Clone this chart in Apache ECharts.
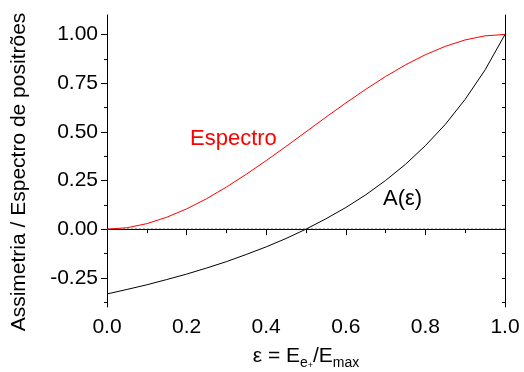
<!DOCTYPE html>
<html>
<head>
<meta charset="utf-8">
<script src="https://cdn.jsdelivr.net/npm/echarts@6/dist/echarts.min.js"></script>
<style>
  html, body { margin: 0; padding: 0; background: #fff; }
  #chart { width: 524px; height: 372px; }
</style>
</head>
<body>
<div id="chart"></div>
<script>
// Reduced positron energy ε = E / Emax
const epsilon = [0, 0.05, 0.1, 0.15, 0.2, 0.25, 0.3, 0.35, 0.4, 0.45, 0.5,
                 0.55, 0.6, 0.65, 0.7, 0.75, 0.8, 0.85, 0.9, 0.95, 1.0];
// Normalised positron spectrum
const espectro = [0, 0.007, 0.028, 0.061, 0.104, 0.156, 0.216, 0.282, 0.352, 0.425, 0.5,
                  0.575, 0.648, 0.718, 0.784, 0.844, 0.896, 0.939, 0.972, 0.993, 1.0];
// Asymmetry A(ε)
const assimetria = [-0.333, -0.310, -0.286, -0.259, -0.231, -0.2, -0.167, -0.130, -0.091, -0.048, 0,
                    0.053, 0.111, 0.176, 0.25, 0.333, 0.429, 0.538, 0.667, 0.818, 1.0];
// Tick values
const xTicks = [0, 0.2, 0.4, 0.6, 0.8, 1.0];
const yMajor = [-0.25, 0, 0.25, 0.5, 0.75, 1.0];
const yMinor = [-0.375, -0.125, 0.125, 0.375, 0.625, 0.875];
const yRange = [-0.4, 1.1];

const FONT = '"Liberation Sans", Arial, sans-serif';
const pair = (xs, ys) => xs.map((x, i) => [x, ys[i]]);

const chart = echarts.init(document.getElementById('chart'), null, { renderer: 'canvas' });

const axisLine = { show: true, lineStyle: { color: '#000', width: 1 } };

chart.setOption({
  animation: false,
  backgroundColor: '#fff',
  grid: { left: 107, right: 19, top: 15, bottom: 65 },
  xAxis: [
    {
      type: 'value', min: xTicks[0], max: xTicks[xTicks.length - 1], interval: 0.2,
      position: 'bottom',
      axisLine: axisLine,
      axisTick: { show: true, inside: false, length: 6, lineStyle: { color: '#000' } },
      minorTick: { show: true, splitNumber: 2, length: 4, lineStyle: { color: '#000' } },
      splitLine: { show: false },
      axisLabel: { fontFamily: FONT, fontSize: 21, color: '#000', margin: 10,
                   formatter: v => v.toFixed(1) }
    },
    {
      type: 'value', min: xTicks[0], max: xTicks[xTicks.length - 1], interval: 0.2,
      position: 'top',
      axisLine: axisLine,
      axisTick: { show: true, inside: true, length: 3, lineStyle: { color: '#000' } },
      minorTick: { show: true, splitNumber: 2, length: 3, lineStyle: { color: '#000' } },
      splitLine: { show: false },
      axisLabel: { show: false }
    }
  ],
  yAxis: [
    {
      type: 'value', min: yRange[0], max: yRange[1],
      position: 'left',
      axisLine: axisLine,
      axisTick: { show: true, inside: false, length: 6, customValues: yMajor, lineStyle: { color: '#000' } },
      splitLine: { show: false },
      axisLabel: { fontFamily: FONT, fontSize: 21, color: '#000', margin: 9,
                   customValues: yMajor, formatter: v => v.toFixed(2) }
    },
    {
      type: 'value', min: yRange[0], max: yRange[1],
      position: 'left',
      axisLine: { show: false },
      axisTick: { show: true, inside: false, length: 3, customValues: yMinor, lineStyle: { color: '#000' } },
      splitLine: { show: false },
      axisLabel: { show: false }
    },
    {
      type: 'value', min: yRange[0], max: yRange[1],
      position: 'right',
      axisLine: axisLine,
      axisTick: { show: true, inside: true, length: 3, customValues: yMajor.concat(yMinor), lineStyle: { color: '#000' } },
      splitLine: { show: false },
      axisLabel: { show: false }
    }
  ],
  series: [
    {
      name: 'zero', type: 'line', symbol: 'none', silent: true,
      data: [[0, 0], [1, 0]],
      lineStyle: { color: '#222', width: 1, type: [2, 2] }
    },
    {
      name: 'Espectro', type: 'line', symbol: 'none', silent: true,
      data: pair(epsilon, espectro),
      lineStyle: { color: '#ff0000', width: 1 }
    },
    {
      name: 'A(ε)', type: 'line', symbol: 'none', silent: true,
      data: pair(epsilon, assimetria),
      lineStyle: { color: '#000', width: 1 }
    }
  ],
  graphic: [
    {
      type: 'text', x: 190, y: 139,
      style: { text: 'Espectro', fill: '#ff0000', font: '22px ' + FONT, verticalAlign: 'middle', align: 'left' }
    },
    {
      type: 'text', x: 383, y: 199,
      style: { text: 'A(ε)', fill: '#000', font: '22px ' + FONT, verticalAlign: 'middle', align: 'left' }
    },
    {
      type: 'text', x: 19, y: 172, rotation: Math.PI / 2,
      style: { text: 'Assimetria / Espectro de positrões', fill: '#000', font: '21px ' + FONT,
               align: 'center', verticalAlign: 'middle' }
    },
    {
      type: 'text', x: 306, y: 356,
      style: {
        text: '{n|ε = E}{s|e}{p|+}{n|/E}{s|max}',
        align: 'center', verticalAlign: 'middle',
        rich: {
          n: { fontFamily: FONT, fontSize: 21, lineHeight: 28, fill: '#000' },
          s: { fontFamily: FONT, fontSize: 14, lineHeight: 10, verticalAlign: 'bottom', fill: '#000' },
          p: { fontFamily: FONT, fontSize: 9, lineHeight: 18, verticalAlign: 'bottom', fill: '#000' }
        }
      }
    }
  ]
});
</script>
</body>
</html>
